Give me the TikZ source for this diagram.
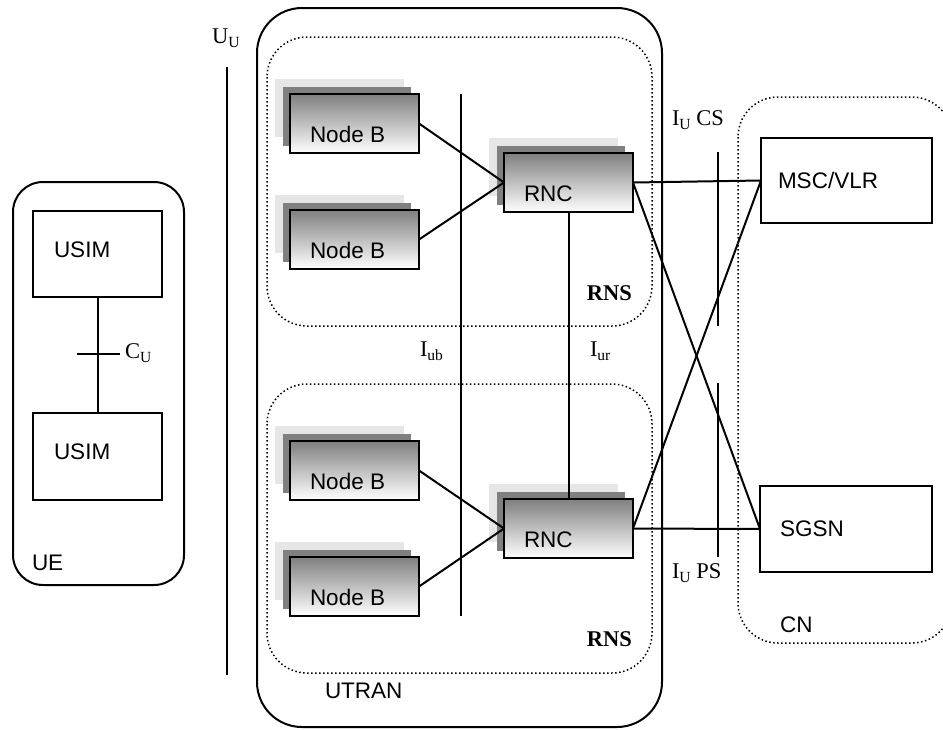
\documentclass[tikz,border=0pt]{standalone}
\usepackage{fontspec}
\setmainfont{Liberation Serif}
\setsansfont{Liberation Sans}

\definecolor{shadelight}{HTML}{E6E6E6}
\definecolor{shadedark}{HTML}{808080}

% subscript set lower and smaller, as in the interface labels
\newcommand\ifsub[1]{\raisebox{-4pt}{\fontsize{15.5}{16}\selectfont #1}}

% a box with a two-step drop shadow and a left-set label
\newcommand\shadowedbox[4]{%
  \fill[shadelight] (#2-15,#3-15) rectangle ++(129,58);
  \fill[shadedark] (#2-7,#3-7) rectangle ++(128,59);
  \node[frontbox, anchor=north west] (#1) at (#2,#3) {};
  \node[sans] (#1-txt) at ([xshift=20pt,yshift=11pt]#1.south west) {#4};
}

\begin{document}
\begin{tikzpicture}[x=1pt,y=-1pt,
  every node/.style={inner sep=0pt, outer sep=0pt},
  sans/.style={font=\sffamily\fontsize{22.5}{27}\selectfont, anchor=base west},
  serif/.style={font=\rmfamily\fontsize{22.5}{27}\selectfont, anchor=base west},
  rnslabel/.style={font=\rmfamily\bfseries\fontsize{22.5}{27}\selectfont, anchor=base east},
  frontbox/.style={draw, line width=2pt, top color=black!50, bottom color=white,
    minimum width=129pt, minimum height=59pt},
  plainbox/.style={draw, line width=2pt, anchor=north west},
  conn/.style={draw, line width=2pt},
  frame/.style={draw, line width=2pt},
  dotframe/.style={draw, line width=1.5pt, dash pattern=on 1.5pt off 2.5pt},
]
\useasboundingbox (0,0) rectangle (943,729);
\clip (0,0) rectangle (943,729);

% ---------- UE ----------
\draw[frame, rounded corners=30pt] (13,182) rectangle (184,585);
\node[plainbox, minimum width=129pt, minimum height=86pt] (usim1) at (33,211) {};
\node[plainbox, minimum width=129pt, minimum height=87pt] (usim2) at (33,413) {};
\node[sans] (usim1-txt) at (54,257) {USIM};
\node[sans] (usim2-txt) at (54,459) {USIM};
\draw[conn] (usim1.south) -- (usim2.north);
\coordinate (cu-l) at (77,354);
\coordinate (cu-r) at (120,354);
\draw[conn] (cu-l) -- (cu-r);
\node[serif] (cu) at (125,358) {C\ifsub{U}};
\node[sans] (ue) at (32,570) {UE};

% ---------- Uu ----------
\node[serif] (uu) at (212,43) {U\ifsub{U}};
\coordinate (uu-top) at (227,67);
\coordinate (uu-bot) at (227,675);
\draw[conn] (uu-top) -- (uu-bot);

% ---------- UTRAN ----------
\draw[frame, rounded corners=45pt] (257,8) rectangle (662,727);
\node[sans] (utran) at (325,698) {UTRAN};
\draw[dotframe, rounded corners=40pt] (267,37) rectangle (652,326);
\draw[dotframe, rounded corners=40pt] (267,384) rectangle (652,673);
\node[rnslabel] (rns1) at (632,300) {RNS};
\node[rnslabel] (rns2) at (632,646) {RNS};

\shadowedbox{nb1}{290}{94}{Node B}
\shadowedbox{nb2}{290}{210}{Node B}
\shadowedbox{nb3}{290}{441}{Node B}
\shadowedbox{nb4}{290}{557}{Node B}
\shadowedbox{rnc1}{504}{153}{RNC}
\shadowedbox{rnc2}{504}{499}{RNC}

\coordinate (iub-top) at (461,94);
\coordinate (iub-bot) at (461,616);
\draw[conn] (iub-top) -- (iub-bot);
\node[serif] (iub) at (420,356) {I\ifsub{ub}};
\node[serif] (iur) at (590,356) {I\ifsub{ur}};

\draw[conn] (nb1.east) -- (rnc1.west);
\draw[conn] (nb2.east) -- (rnc1.west);
\draw[conn] (nb3.east) -- (rnc2.west);
\draw[conn] (nb4.east) -- (rnc2.west);
\draw[conn] (rnc1.south) -- (rnc2.north);

% ---------- CN ----------
\draw[dotframe, rounded corners=40pt] (738,97) rectangle (952,643);
\node[sans] (cn) at (780,632) {CN};
\node[plainbox, minimum width=171pt, minimum height=85pt] (msc) at (761,138) {};
\node[plainbox, minimum width=172pt, minimum height=86pt] (sgsn) at (760,486) {};
\node[sans] (msc-txt) at (778,188) {MSC/VLR};
\node[sans] (sgsn-txt) at (780,536) {SGSN};

\draw[conn] (rnc1.east) -- (msc.west);
\draw[conn] (rnc1.east) -- (sgsn.west);
\draw[conn] (rnc2.east) -- (msc.west);
\draw[conn] (rnc2.east) -- (sgsn.west);

% Iu interface marks
\node[serif] (iucs) at (672,125) {I\ifsub{U} CS};
\node[serif] (iups) at (672,578) {I\ifsub{U} PS};
\coordinate (iucs-top) at (718,152);
\coordinate (iucs-bot) at (718,326);
\coordinate (iups-top) at (718,383);
\coordinate (iups-bot) at (718,557);
\draw[conn] (iucs-top) -- (iucs-bot);
\draw[conn] (iups-top) -- (iups-bot);
\end{tikzpicture}
\end{document}
